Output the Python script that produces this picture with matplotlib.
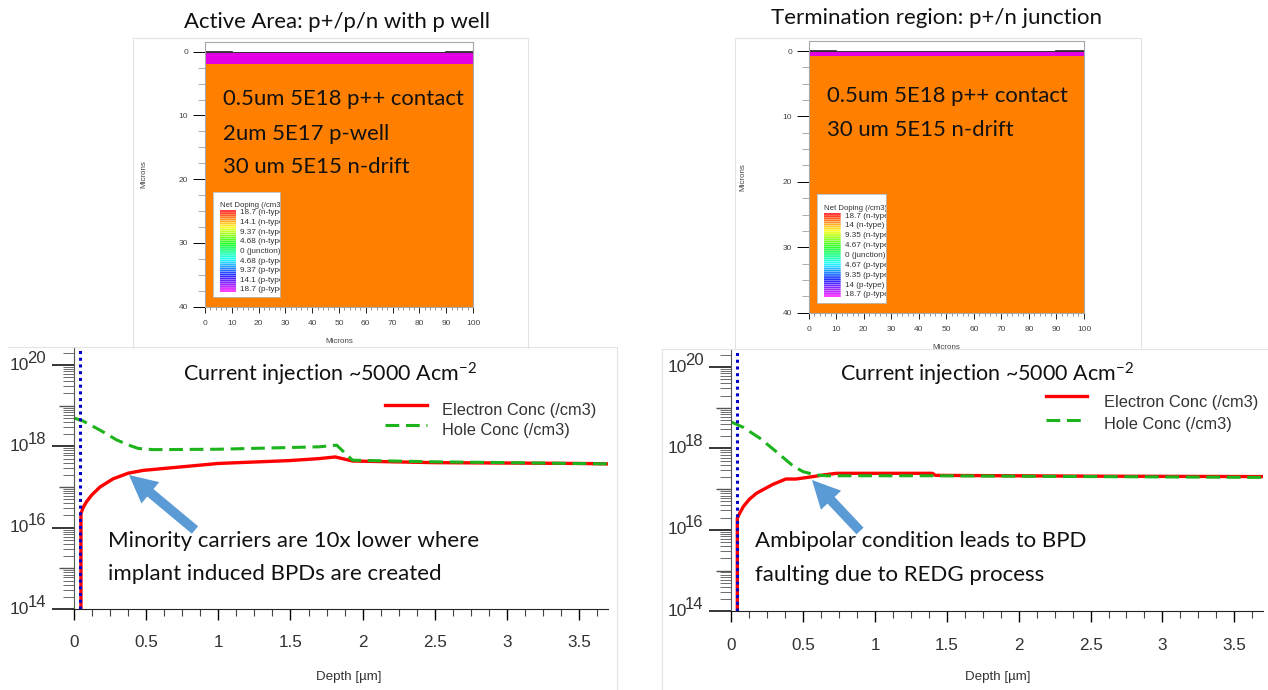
import numpy as np
import matplotlib
matplotlib.use('Agg')
import matplotlib.pyplot as plt
from matplotlib.patches import FancyArrowPatch

plt.rcParams['font.family'] = ['Liberation Sans', 'DejaVu Sans']
plt.rcParams['mathtext.default'] = 'regular'

W, H = 1268, 690

# doping structures
left_layers = [0, 2, 40]
right_layers = [0, 0.7, 40]
layer_colors = ['#E400E4', '#FF8000']
left_scale = ['18.7 (n-type)', '14.1 (n-type)', '9.37 (n-type)', '4.68 (n-type)', '0 (junction)',
              '4.68 (p-type)', '9.37 (p-type)', '14.1 (p-type)', '18.7 (p-type)']
right_scale = ['18.7 (n-type)', '14 (n-type)', '9.35 (n-type)', '4.67 (n-type)', '0 (junction)',
               '4.67 (p-type)', '9.35 (p-type)', '14 (p-type)', '18.7 (p-type)']

# carrier profiles, depth in um and log10 of the concentration
left_e_x = [0.048, 0.048, 0.064, 0.087, 0.122, 0.18, 0.27, 0.375, 0.48, 1.0, 1.49, 1.7, 1.81, 1.93, 2.5, 3.0, 3.5, 3.7]
left_e_y = [14, 16.35, 16.5, 16.64, 16.8, 17.0, 17.2, 17.34, 17.41, 17.58, 17.65, 17.7, 17.74, 17.64, 17.6, 17.59, 17.58, 17.57]
left_h_x = [0, 0.065, 0.18, 0.295, 0.38, 0.445, 0.55, 1.0, 1.7, 1.82, 1.93, 2.5, 3.0, 3.7]
left_h_y = [18.7, 18.62, 18.4, 18.16, 18.03, 17.95, 17.92, 17.93, 17.99, 18.03, 17.66, 17.62, 17.6, 17.57]
right_e_x = [0.042, 0.042, 0.06, 0.083, 0.125, 0.175, 0.29, 0.38, 0.45, 0.57, 0.64, 0.73, 1.4, 1.42, 2.5, 3.7]
right_e_y = [14, 16.29, 16.42, 16.57, 16.75, 16.9, 17.12, 17.25, 17.25, 17.31, 17.35, 17.39, 17.39, 17.34, 17.32, 17.31]
right_h_x = [0, 0.083, 0.2, 0.31, 0.43, 0.5, 0.59, 0.66, 1.4, 2.5, 3.7]
right_h_y = [18.65, 18.52, 18.25, 17.93, 17.57, 17.43, 17.35, 17.33, 17.33, 17.31, 17.29]
y_exponents = [14, 16, 18, 20]

fig = plt.figure(figsize=(W / 100, H / 100), dpi=100)


def px_axes(x0, y0, x1, y1, **kw):
    return fig.add_axes([x0 / W, 1 - y1 / H, (x1 - x0) / W, (y1 - y0) / H], **kw)


def draw_struct(box, layers, scale, key_box, key_bar, y0_frac, ypad, xpad):
    ax = px_axes(*box)
    ax.set_xlim(0, 100)
    ax.set_ylim(40, y0_frac)
    for i in range(len(layers) - 1):
        ax.axhspan(layers[i], layers[i + 1], color=layer_colors[i], lw=0)
    ax.plot([0, 10], [0, 0], color='#222222', lw=1.2)
    ax.plot([90, 100], [0, 0], color='#222222', lw=1.2)
    ax.plot([0, 100], [0, 0], color='#333333', lw=0.7)
    for s in ax.spines.values():
        s.set_color('#a8a8a8')
        s.set_linewidth(0.8)
    ax.set_xticks(np.arange(0, 101, 10))
    ax.set_xticks(np.arange(0, 101, 2), minor=True)
    ax.set_yticks(np.arange(0, 41, 10))
    ax.set_yticks(np.arange(0, 41, 2.5), minor=True)
    ax.tick_params(axis='x', which='major', length=4.5, width=0.6, labelsize=6, pad=5, labelcolor='#444444')
    ax.tick_params(axis='x', which='minor', length=2, width=0.5, color='#666666')
    ax.tick_params(axis='y', which='major', length=9, width=0.7, labelsize=6, pad=3, labelcolor='#444444')
    ax.tick_params(axis='y', which='minor', length=5, width=0.5, color='#888888')
    ax.set_xlabel('Microns', fontsize=5.8, color='#444444', labelpad=xpad)
    ax.set_ylabel('Microns', fontsize=5.8, color='#444444', labelpad=ypad)

    key = px_axes(*key_box)
    key.set_xlim(key_box[0], key_box[2])
    key.set_ylim(key_box[3], key_box[1])
    key.set_xticks([])
    key.set_yticks([])
    for s in key.spines.values():
        s.set_color('#bbbbbb')
        s.set_linewidth(0.6)
    n = 40
    ys = np.linspace(key_bar[1], key_bar[3], n)
    cols = plt.cm.hsv(np.linspace(0, 0.84, n))
    bars = key.barh(ys, key_bar[2] - key_bar[0], left=key_bar[0], height=(ys[1] - ys[0]) * 0.85,
                    color=cols, lw=0, alpha=0.85)
    # no pixel snapping, otherwise the thin stripes come out uneven
    for b in bars:
        b.set_snap(False)
    key.text(key_bar[0], key_bar[1] - 5.5, 'Net Doping (/cm3)', fontsize=5.6, color='#333333',
             va='center', clip_on=True)
    for lab, y in zip(scale, np.linspace(key_bar[1] + 2, key_bar[3] - 1, len(scale))):
        key.text(key_bar[2] + 4, y, lab, fontsize=5.9, color='#333333', va='center', clip_on=True)
    return ax


def draw_profile(box, e_x, e_y, h_x, h_y, dot_x):
    ax = px_axes(*box, facecolor='none')
    ax.set_xlim(0, 3.7)
    ax.set_yscale('log')
    ax.set_ylim(1e14, 10 ** 20.42)
    ax.plot(e_x, 10 ** np.array(e_y), color='#FF0000', lw=2.4, solid_joinstyle='round')
    ax.plot(h_x, 10 ** np.array(h_y), color='#1DB31D', lw=2.2, dashes=(4.5, 2.2))
    ax.axvline(dot_x, color='#0000C8', lw=2.2, ls=(0, (1, 1.2)))
    for s in ['top', 'right']:
        ax.spines[s].set_visible(False)
    ax.spines['left'].set_color('#555555')
    ax.spines['bottom'].set_color('#222222')
    ax.set_xticks(np.arange(0, 3.6, 0.5))
    ax.set_xticklabels(['0', '0.5', '1', '1.5', '2', '2.5', '3', '3.5'])
    ax.set_xticks(np.arange(0, 3.7, 0.125), minor=True)
    ax.tick_params(axis='x', which='major', length=8, width=1, labelsize=12.3, pad=11, labelcolor='#333333')
    ax.tick_params(axis='x', which='minor', length=5, width=0.8, color='#444444')

    ax.set_yticks([10.0 ** e for e in y_exponents])
    ax.set_yticklabels([])
    minors = []
    for d in range(14, 21):
        for m in range(1, 10):
            if m == 1 and d % 2 == 0:
                continue
            minors.append(m * 10.0 ** d)
    minors = [v for v in minors if v < 10 ** 20.42]
    ax.set_yticks(minors, minor=True)
    ax.set_yticklabels([], minor=True)
    ax.tick_params(axis='y', which='major', length=16, width=1.1)
    ax.tick_params(axis='y', which='minor', length=8, width=0.6, color='#555555')
    for t, v in zip(ax.yaxis.get_minor_ticks(), minors):
        if abs(np.log10(v) - round(np.log10(v))) < 1e-6:
            t.tick1line.set_markersize(10.5)
            t.tick1line.set_markeredgewidth(1)
    # the exponents are nearly as tall as the base in the original
    for e in y_exponents:
        ax.annotate('10', xy=(0, 10.0 ** e), xycoords=('axes fraction', 'data'), xytext=(-46, 0),
                    textcoords='offset points', fontsize=12.5, color='#333333', va='center', ha='left')
        ax.annotate(str(e), xy=(0, 10.0 ** e), xycoords=('axes fraction', 'data'), xytext=(-33.5, 5),
                    textcoords='offset points', fontsize=12, color='#333333', va='center', ha='left')
    return ax


draw_struct((205, 41.7, 473, 306.7), left_layers, left_scale,
            (213.3, 191.7, 280, 296.7), (220, 211, 236, 291), -1.57, 23, 8)
draw_struct((808.7, 41, 1084, 312.7), right_layers, right_scale,
            (817, 194, 885.7, 302.7), (824, 214, 840.7, 296), -1.53, 26, 8)

draw_profile((74, 348, 608, 609), left_e_x, left_e_y, left_h_x, left_h_y, 0.041)
draw_profile((731.3, 350, 1263, 611.3), right_e_x, right_e_y, right_h_x, right_h_y, 0.042)

# overlay in picture pixels for the slide text, arrows and frames
top = fig.add_axes([0, 0, 1, 1], facecolor='none')
top.set_xlim(0, W)
top.set_ylim(H, 0)
top.axis('off')

for xs, ys in [([133, 133, 528], [348, 38, 38]), ([528, 528], [38, 348]),
               ([8, 617], [347, 347]), ([617, 617], [347, 690]), ([735, 735, 1141, 1141], [349, 38, 38, 349]),
               ([662, 662], [349, 690]), ([662, 1268], [349, 349])]:
    top.plot(xs, ys, color='#e4e4e4', lw=0.8)

cal = dict(family=['Lato', 'DejaVu Sans'], color='#111111', va='center', ha='left')
top.text(184, 22, 'Active Area: p+/p/n with p well', fontsize=15.9, **cal)
top.text(771, 18, 'Termination region: p+/n junction', fontsize=16, **cal)
for txt, y in [('0.5um 5E18 p++ contact', 99), ('2um 5E17 p-well', 134), ('30 um 5E15 n-drift', 167)]:
    top.text(223, y, txt, fontsize=15.9, **cal)
for txt, y in [('0.5um 5E18 p++ contact', 96), ('30 um 5E15 n-drift', 130)]:
    top.text(827, y, txt, fontsize=15.9, **cal)
top.text(183, 374, 'Current injection ~5000 Acm$^{-2}$', fontsize=15.5, **cal)
top.text(840, 374, 'Current injection ~5000 Acm$^{-2}$', fontsize=15.5, **cal)
top.text(108, 541, 'Minority carriers are 10x lower where', fontsize=16, **cal)
top.text(108, 574, 'implant induced BPDs are created', fontsize=16, **cal)
top.text(755, 541, 'Ambipolar condition leads to BPD', fontsize=16, **cal)
top.text(755, 575, 'faulting due to REDG process', fontsize=16, **cal)

for start, end in [((195, 530), (129, 475)), ((860, 531), (812, 480))]:
    top.add_patch(FancyArrowPatch(start, end, arrowstyle='simple,head_width=20,head_length=20,tail_width=7',
                                  color='#5B9BD5', lw=0, mutation_scale=1, shrinkA=0, shrinkB=0))

# hand-placed legends
top.plot([385, 427], [405, 405], color='#FF0000', lw=2.4)
top.plot([385, 427], [425, 425], color='#1DB31D', lw=2.2, dashes=(4.5, 2.2))
top.text(442, 410, 'Electron Conc (/cm3)', fontsize=11.8, color='#333333', va='center')
top.text(442, 431, 'Hole Conc (/cm3)', fontsize=11.8, color='#333333', va='center')
top.plot([1046, 1087], [396, 396], color='#FF0000', lw=2.4)
top.plot([1046, 1087], [420, 420], color='#1DB31D', lw=2.2, dashes=(4.5, 2.2))
top.text(1104, 402, 'Electron Conc (/cm3)', fontsize=11.8, color='#333333', va='center')
top.text(1104, 425, 'Hole Conc (/cm3)', fontsize=11.8, color='#333333', va='center')
top.text(349, 677, 'Depth [µm]', fontsize=9.6, color='#333333', va='center', ha='center')
top.text(998, 677, 'Depth [µm]', fontsize=9.6, color='#333333', va='center', ha='center')

fig.savefig('out.png', dpi=100)
